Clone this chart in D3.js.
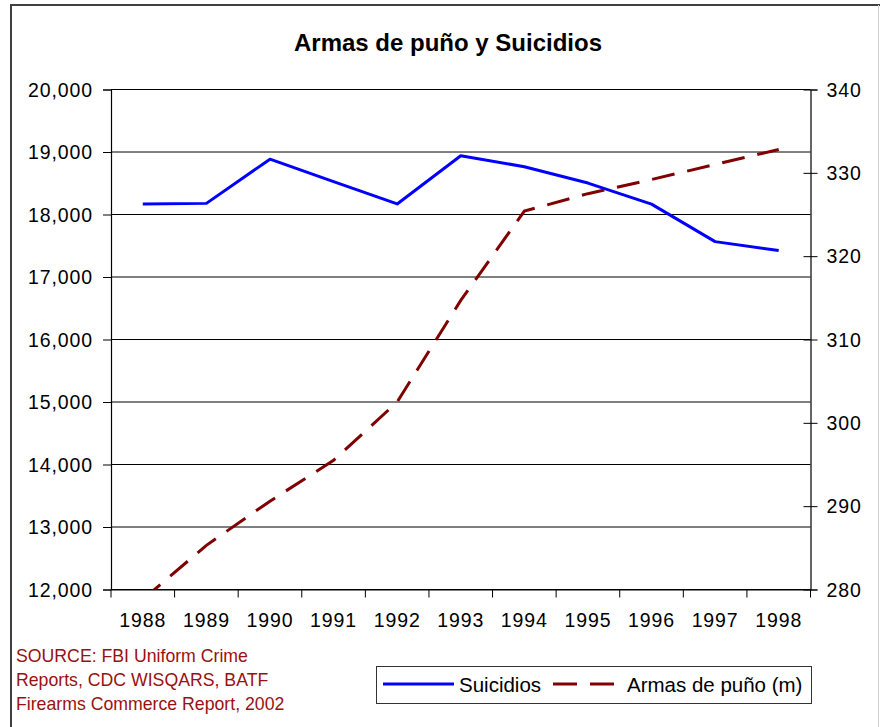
<!DOCTYPE html>
<html>
<head>
<meta charset="utf-8">
<script src="https://cdn.jsdelivr.net/npm/d3@7"></script>
<style>
  html, body { margin: 0; padding: 0; background: #fff; }
  svg { display: block; }
  text { font-family: "Liberation Sans", Arial, sans-serif; }
</style>
</head>
<body>
<svg id="chart" width="880" height="727"></svg>
<script>
const years = ["1988","1989","1990","1991","1992","1993","1994","1995","1996","1997","1998"];
const suicidios = [18169, 18178, 18885, 18526, 18169, 18940, 18765, 18503, 18166, 17566, 17424];
const armas = [278.8, 285.3, 290.6, 295.5, 302.5, 314.7, 325.4, 327.5, 329.2, 331.0, 332.8];
const leftTicks = [12000,13000,14000,15000,16000,17000,18000,19000,20000];
const rightTicks = [280,290,300,310,320,330,340];
const title = "Armas de puño y Suicidios";
const sourceLines = ["SOURCE: FBI Uniform Crime", "Reports, CDC WISQARS, BATF", "Firearms Commerce Report, 2002"];
const seriesNames = ["Suicidios", "Armas de puño (m)"];

const svg = d3.select("#chart");
const L = 111, R = 810.5, T = 89.5, B = 589.5;

// frame
svg.append("path").attr("d", `M11,727 V5 H880`).attr("fill","none").attr("stroke","#404040").attr("stroke-width",2);
svg.append("line").attr("x1",878.5).attr("x2",878.5).attr("y1",5).attr("y2",727).attr("stroke","#d0d0d0").attr("stroke-width",1);

const x = d3.scaleBand().domain(years).range([L, R]).padding(0);
const yL = d3.scaleLinear().domain([12000, 20000]).range([B, T]);
const yR = d3.scaleLinear().domain([280, 340]).range([B, T]);

// title
svg.append("text").attr("x", 448).attr("y", 51).attr("text-anchor","middle")
  .attr("font-size", 24).attr("font-weight","bold").text(title);

// gridlines
svg.append("g").selectAll("line").data(leftTicks).join("line")
  .attr("x1", L).attr("x2", R).attr("y1", d => yL(d)).attr("y2", d => yL(d))
  .attr("stroke", "#000").attr("stroke-width", 1);

// left axis
const gl = svg.append("g").attr("transform", `translate(${L},0)`)
  .call(d3.axisLeft(yL).tickValues(leftTicks).tickFormat(d3.format(",")).tickSize(8).tickPadding(10));
gl.select(".domain").attr("stroke","#000").attr("stroke-width",1.2);
gl.selectAll(".tick line").attr("stroke","#000");
gl.selectAll("text").attr("font-size", 19.5).attr("fill","#000").attr("dy","0.34em")
  .attr("font-family","Liberation Sans, Arial, sans-serif").style("letter-spacing","0.9px");

// right axis
const gr = svg.append("g").attr("transform", `translate(${R},0)`)
  .call(d3.axisRight(yR).tickValues(rightTicks).tickSize(7).tickPadding(9));
gr.select(".domain").attr("stroke","#000").attr("stroke-width",1.2);
gr.selectAll(".tick line").attr("stroke","#000").attr("x1",-7);
gr.selectAll("text").attr("font-size", 19.5).attr("fill","#000").attr("dy","0.34em")
  .attr("font-family","Liberation Sans, Arial, sans-serif").style("letter-spacing","0.9px");

// bottom axis
const gb = svg.append("g").attr("transform", `translate(0,${B})`)
  .call(d3.axisBottom(x).tickSize(0).tickPadding(24));
gb.select(".domain").attr("stroke","#000").attr("stroke-width",1.2);
gb.selectAll("text").attr("font-size", 19.5).attr("fill","#000")
  .attr("font-family","Liberation Sans, Arial, sans-serif").style("letter-spacing","0.9px");
const bounds = years.map(d => x(d)).concat([x(years[years.length-1]) + x.bandwidth()]);
svg.append("g").selectAll("line").data(bounds).join("line")
  .attr("x1", d => d).attr("x2", d => d).attr("y1", B).attr("y2", B + 8)
  .attr("stroke", "#000").attr("stroke-width", 1);

// clip
svg.append("clipPath").attr("id","plotclip").append("rect")
  .attr("x", L).attr("y", T).attr("width", R - L).attr("height", B - T);

const cx = d => x(d) + x.bandwidth()/2;
const lineL = d3.line().x((d,i) => cx(years[i])).y(d => yL(d));
const lineR = d3.line().x((d,i) => cx(years[i])).y(d => yR(d));

const plot = svg.append("g").attr("clip-path","url(#plotclip)");
plot.append("path").datum(suicidios).attr("d", lineL)
  .attr("fill","none").attr("stroke","#0000ff").attr("stroke-width",3).attr("stroke-linejoin","round");
plot.append("path").datum(armas).attr("d", lineR)
  .attr("fill","none").attr("stroke","#800000").attr("stroke-width",3)
  .attr("stroke-dasharray","23,13").attr("stroke-dashoffset", 0);

// source
svg.append("g").selectAll("text").data(sourceLines).join("text")
  .attr("x", 16).attr("y", (d,i) => 662 + i*24)
  .attr("font-size", 17.7).attr("fill", "#991111").text(d => d);

// legend
const lg = svg.append("g");
lg.append("rect").attr("x", 376.5).attr("y", 666.5).attr("width", 435).attr("height", 37)
  .attr("fill","#fff").attr("stroke","#333").attr("stroke-width",1);
lg.append("line").attr("x1", 383).attr("x2", 454).attr("y1", 684).attr("y2", 684)
  .attr("stroke","#0000ff").attr("stroke-width",3);
lg.append("text").attr("x", 459).attr("y", 691.5).attr("font-size", 20.5).text(seriesNames[0]);
lg.append("line").attr("x1", 553).attr("x2", 614).attr("y1", 684).attr("y2", 684)
  .attr("stroke","#800000").attr("stroke-width",3).attr("stroke-dasharray","24,13");
lg.append("text").attr("x", 627).attr("y", 691.5).attr("font-size", 20.5).text(seriesNames[1]);
</script>
</body>
</html>
